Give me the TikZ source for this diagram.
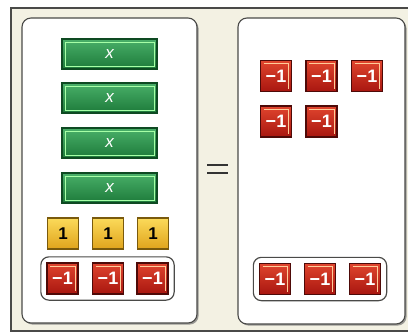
\documentclass[tikz,border=0pt]{standalone}
\usepackage{fontspec}
\setmainfont{Liberation Sans}
\usetikzlibrary{fit,shadows}
\definecolor{cream}{HTML}{F3F1E3}
\definecolor{frameline}{HTML}{4A4A48}
\definecolor{gdark}{HTML}{0E4A22}
\definecolor{gtop}{HTML}{49B069}
\definecolor{gbot}{HTML}{1D7A3A}
\definecolor{ydark}{HTML}{7A5A0C}
\definecolor{ytop}{HTML}{FBDA5A}
\definecolor{ybot}{HTML}{E0A41C}
\definecolor{rdark}{HTML}{4E0A08}
\definecolor{rtop}{HTML}{E0452E}
\definecolor{rbot}{HTML}{A8160F}
\tikzset{
  panel/.style={draw=frameline, line width=1.1pt, fill=white, rounded corners=9pt,
    drop shadow={shadow xshift=1.6pt, shadow yshift=-1.6pt, fill=black!55, opacity=0.7},
    inner sep=0pt},
  xbar/.style={draw=gdark, line width=1.3pt, top color=gtop, bottom color=gbot,
    minimum width=95, minimum height=30, inner sep=0pt, text=white,
    font=\fontsize{17}{17}\selectfont\itshape,
    path picture={\draw[green!35!white, line width=0.6pt]
      ([shift={(3pt,-3pt)}]path picture bounding box.north west) rectangle
      ([shift={(-3pt,3pt)}]path picture bounding box.south east);}},
  unit/.style={draw=ydark, line width=1.3pt, top color=ytop, bottom color=ybot,
    minimum width=31, minimum height=31, inner sep=0pt, text=black,
    font=\fontsize{17}{17}\selectfont\bfseries},
  neg/.style={draw=rdark, line width=1.3pt, top color=rtop, bottom color=rbot,
    minimum width=31, minimum height=31, inner sep=0pt, text=white,
    font=\fontsize{18}{18}\selectfont\bfseries,
    path picture={\draw[orange!40!white, line width=0.6pt]
      ([shift={(3pt,-3pt)}]path picture bounding box.north west) -- 
      ([shift={(-3pt,-3pt)}]path picture bounding box.north east) --
      ([shift={(-3pt,3pt)}]path picture bounding box.south east);}},
  group/.style={draw=frameline, line width=1.2pt, rounded corners=8pt, inner sep=5.5pt},
  eqline/.style={line width=2.6pt, draw=black!80}
}
\begin{document}
\begin{tikzpicture}[x=1pt,y=-1pt]
\useasboundingbox (0,0) rectangle (408,335);
\fill[white] (0,0) rectangle (408,335);
\fill[cream] (11,8) rectangle (408,331);
\draw[frameline, line width=1.2pt] (408,8) -- (11,8) -- (11,331) -- (408,331);
% panels
\node[panel, minimum width=175, minimum height=305] (lp) at (109.5,170.5) {};
\node[panel, minimum width=167, minimum height=306] (rp) at (321.5,171) {};
% left panel
\node[xbar] (x1) at (109.5,54) {x};
\node[xbar] (x2) at (109.5,98) {x};
\node[xbar] (x3) at (109.5,143) {x};
\node[xbar] (x4) at (109.5,188) {x};
\node[unit] (u1) at (63,233.5) {1};
\node[unit] (u2) at (108,233.5) {1};
\node[unit] (u3) at (153,233.5) {1};
\node[neg] (n1) at (62.5,278.5) {−1};
\node[neg] (n2) at (108,278.5) {−1};
\node[neg] (n3) at (152.5,278.5) {−1};
\node[group, fit=(n1)(n3)] (lg) {};
% equals
\coordinate (e1a) at (207,165); \coordinate (e1b) at (228,165);
\coordinate (e2a) at (207,173); \coordinate (e2b) at (228,173);
\draw[eqline] (e1a) -- (e1b);
\draw[eqline] (e2a) -- (e2b);
% right panel
\node[neg] (m1) at (276,76) {−1};
\node[neg] (m2) at (321.5,76) {−1};
\node[neg] (m3) at (367,76) {−1};
\node[neg] (m4) at (276,121.5) {−1};
\node[neg] (m5) at (321.5,121.5) {−1};
\node[neg] (p1) at (275,279) {−1};
\node[neg] (p2) at (320,279) {−1};
\node[neg] (p3) at (365,279) {−1};
\node[group, fit=(p1)(p3)] (rg) {};
\end{tikzpicture}
\end{document}
